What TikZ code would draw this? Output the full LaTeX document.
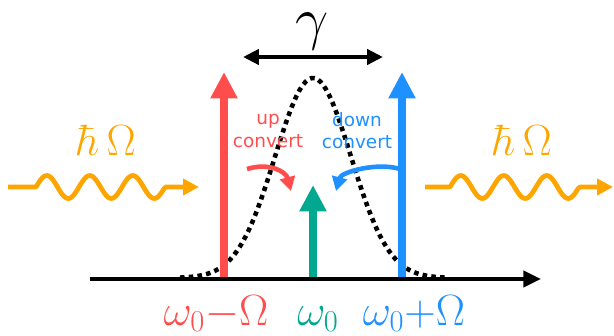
\documentclass[tikz,border=0pt]{standalone}
\usepackage{fontspec}
\usepackage{graphicx}
\setsansfont{DejaVu Sans}
\usetikzlibrary{arrows.meta}
\definecolor{upred}{RGB}{255,77,77}
\definecolor{downblue}{RGB}{30,144,255}
\definecolor{carrier}{RGB}{0,168,143}
\definecolor{drive}{RGB}{255,165,0}
\tikzset{line/.style={line width=4.8pt, -{Triangle[length=15pt, width=14.5pt]}},
  axis/.style={line width=2.3pt, -{Triangle[length=10pt, width=9pt]}},
  span/.style={line width=2.3pt, {Triangle[length=9pt, width=8.5pt]}-{Triangle[length=9pt, width=8.5pt]}},
  wave/.style={drive, line width=2.7pt, line join=round, -{Triangle[length=9pt, width=9pt]}},
  conv/.style={line width=2.6pt, -{Triangle[length=8pt, width=8.5pt]}},
  lbl/.style={font=\fontsize{25}{30}\selectfont, anchor=base}}

\begin{document}
\begin{tikzpicture}[x=0.02cm, y=-0.02cm, font=\sffamily\fontsize{10.5}{12.6}\selectfont]
  \useasboundingbox (0,0) rectangle (614,335);
  % linewidth
  \draw[line width=2.6pt, dash pattern=on 2.6pt off 2.4pt]
    plot[domain=180:446, samples=90] (\x,{278-200*exp(-((\x-313)/38)*((\x-313)/38)/2)});
  \coordinate (gl) at (243,57);
  \coordinate (gr) at (383,57);
  \draw[span] (gl) -- (gr);
  \node[anchor=base, inner sep=0pt, font=\fontsize{25}{30}\selectfont] (gamma) at (312,38) {\scalebox{1.35}{$\gamma$}};
  % sidebands and carrier
  \coordinate (lo) at (224,278);
  \coordinate (lotip) at (224,72);
  \coordinate (hi) at (402,278);
  \coordinate (hitip) at (402,72);
  \coordinate (ca) at (313,278);
  \coordinate (catip) at (313,185);
  \draw[line, upred] (lo) -- (lotip);
  \draw[line, downblue] (hi) -- (hitip);
  \draw[line, carrier] (ca) -- (catip);
  % frequency axis
  \coordinate (ax0) at (90,279);
  \coordinate (ax1) at (541,279);
  \draw[axis] (ax0) -- (ax1);
  \node[lbl, upred] (wlo) at (216,325) {$\omega_0{-}\Omega$};
  \node[lbl, carrier] (wca) at (318,325) {$\omega_0$};
  \node[lbl, downblue] (whi) at (414,325) {$\omega_0{+}\Omega$};
  % conversion
  \node[upred, align=center] (up) at (268,131) {up\\convert};
  \node[downblue, align=center] (down) at (357,131) {down\\convert};
  \coordinate (ua) at (247,169);
  \coordinate (ub) at (291,191);
  \coordinate (da) at (400,169);
  \coordinate (db) at (336,191);
  \draw[conv, upred] (ua) .. controls (270,162) and (286,172) .. (ub);
  \draw[conv, downblue] (da) .. controls (377,162) and (341,172) .. (db);
  % drive photons
  \coordinate (lw0) at (8,187);
  \coordinate (lw1) at (199,187);
  \coordinate (rw0) at (425,187);
  \coordinate (rw1) at (613,187);
  \draw[wave] (lw0) -- (30,187) -- plot[domain=36:170, samples=70] (\x,{187-11.5*sin((\x-36)/43*360)*(\x<165)}) -- (lw1);
  \draw[wave] (rw0) -- (444,187) -- plot[domain=450:584, samples=70] (\x,{187-11.5*sin((\x-450)/43*360)*(\x<579)}) -- (rw1);
  \node[lbl, drive] (hl) at (106,155) {$\hbar\,\Omega$};
  \node[lbl, drive] (hr) at (522,155) {$\hbar\,\Omega$};
\end{tikzpicture}
\end{document}
